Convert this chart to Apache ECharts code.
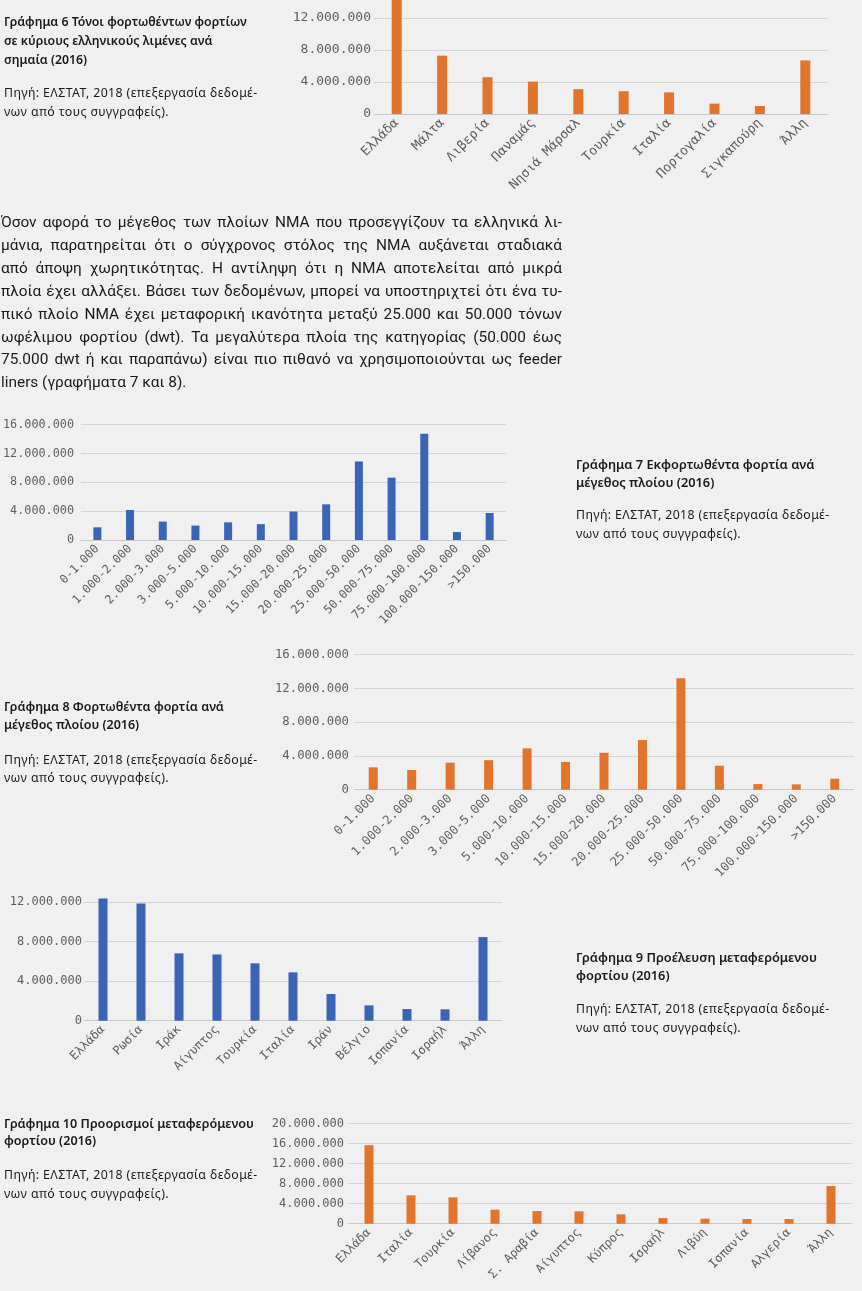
<!DOCTYPE html>
<html>
<head>
<meta charset="utf-8">
<script src="https://cdn.jsdelivr.net/npm/echarts@6/dist/echarts.min.js"></script>
<style>
html,body{margin:0;padding:0;background:#f0f0f0;}
#wrap{position:relative;width:862px;height:1291px;overflow:hidden;background:#f0f0f0;}
#chart{position:absolute;left:0;top:0;width:862px;height:1291px;}
.t{position:absolute;white-space:nowrap;color:#1a1a1a;font-family:"Noto Sans",sans-serif;font-size:12.3px;line-height:18px;height:18px;}
.cap{font-weight:600;}
.src{letter-spacing:0.4px;}
.para{position:absolute;left:1px;width:561px;color:#1a1a1a;font-family:Roboto,"Noto Sans",sans-serif;font-size:15.4px;line-height:23px;height:23px;white-space:nowrap;text-align:justify;text-align-last:justify;}
.para.last{text-align-last:left;}
</style>
</head>
<body>
<div id="wrap">
<div id="chart"></div>
<div id="texts"></div>
</div>
<script>
// ---------- data ----------
var c6Cats = ['Ελλάδα','Μάλτα','Λιβερία','Παναμάς','Νησιά Μάρσαλ','Τουρκία','Ιταλία','Πορτογαλία','Σιγκαπούρη','Άλλη'];
var c6Vals = [14800000, 7300000, 4600000, 4050000, 3100000, 2850000, 2700000, 1300000, 1000000, 6700000];

var sizeCats = ['0-1.000','1.000-2.000','2.000-3.000','3.000-5.000','5.000-10.000','10.000-15.000','15.000-20.000','20.000-25.000','25.000-50.000','50.000-75.000','75.000-100.000','100.000-150.000','>150.000'];
var c7Vals = [1760000, 4170000, 2550000, 2000000, 2450000, 2200000, 3950000, 4950000, 10900000, 8650000, 14750000, 1100000, 3750000];
var c8Vals = [2650000, 2330000, 3200000, 3500000, 4900000, 3280000, 4380000, 5880000, 13200000, 2840000, 670000, 630000, 1300000];

var c9Cats = ['Ελλάδα','Ρωσία','Ιράκ','Αίγυπτος','Τουρκία','Ιταλία','Ιράν','Βέλγιο','Ισπανία','Ισραήλ','Άλλη'];
var c9Vals = [12370000, 11860000, 6810000, 6700000, 5800000, 4890000, 2700000, 1550000, 1180000, 1150000, 8460000];

var c10Cats = ['Ελλάδα','Ιταλία','Τουρκία','Λίβανος','Σ. Αραβία','Αίγυπτος','Κύπρος','Ισραήλ','Λιβύη','Ισπανία','Αλγερία','Άλλη'];
var c10Vals = [15700000, 5670000, 5270000, 2800000, 2530000, 2470000, 1870000, 1130000, 1000000, 930000, 930000, 7530000];

var paragraphLines = [
  'Όσον αφορά το μέγεθος των πλοίων ΝΜΑ που προσεγγίζουν τα ελληνικά λι-',
  'μάνια, παρατηρείται ότι ο σύγχρονος στόλος της ΝΜΑ αυξάνεται σταδιακά',
  'από άποψη χωρητικότητας. Η αντίληψη ότι η ΝΜΑ αποτελείται από μικρά',
  'πλοία έχει αλλάξει. Βάσει των δεδομένων, μπορεί να υποστηριχτεί ότι ένα τυ-',
  'πικό πλοίο ΝΜΑ έχει μεταφορική ικανότητα μεταξύ 25.000 και 50.000 τόνων',
  'ωφέλιμου φορτίου (dwt). Τα μεγαλύτερα πλοία της κατηγορίας (50.000 έως',
  '75.000 dwt ή και παραπάνω) είναι πιο πιθανό να χρησιμοποιούνται ως feeder',
  'liners (γραφήματα 7 και 8).'
];
var sourceLines = ['Πηγή: ΕΛΣΤΑΤ, 2018 (επεξεργασία δεδομέ-', 'νων από τους συγγραφείς).'];
var captions = [
  {x:4,   fs:12.3, ys:[22,41,60], src:[93,112],  lines:['Γράφημα 6 Τόνοι φορτωθέντων φορτίων','σε κύριους ελληνικούς λιμένες ανά','σημαία (2016)']},
  {x:576, fs:12.8, ys:[464,482],  src:[515,534], lines:['Γράφημα 7 Εκφορτωθέντα φορτία ανά','μέγεθος πλοίου (2016)']},
  {x:4,   fs:12.5, ys:[707,725],  src:[760,778], lines:['Γράφημα 8 Φορτωθέντα φορτία ανά','μέγεθος πλοίου (2016)']},
  {x:576, fs:12.8, ys:[957,975],  src:[1009,1028], lines:['Γράφημα 9 Προέλευση μεταφερόμενου','φορτίου (2016)']},
  {x:4,   fs:12.6, ys:[1124,1141], src:[1175,1194], lines:['Γράφημα 10 Προορισμοί μεταφερόμενου','φορτίου (2016)']}
];

// ---------- texts ----------
var tx = document.getElementById('texts');
function addDiv(cls, txt, x, yc, h, fs){
  var d = document.createElement('div');
  d.className = cls;
  d.textContent = txt;
  d.style.left = x + 'px';
  d.style.top = (yc - h/2) + 'px';
  if (fs) d.style.fontSize = fs + 'px';
  tx.appendChild(d);
}
captions.forEach(function(c){
  c.lines.forEach(function(l,i){ addDiv('t cap', l, c.x, c.ys[i], 18, c.fs); });
  sourceLines.forEach(function(l,i){ addDiv('t src', l, c.x, c.src[i], 18); });
});
var paraY = [222,245,268,291,314,337,359,382];
paragraphLines.forEach(function(l,i){
  var d = document.createElement('div');
  d.className = 'para' + (i === paragraphLines.length-1 ? ' last' : '');
  d.textContent = l;
  d.style.top = (paraY[i] - 11.5) + 'px';
  tx.appendChild(d);
});

// ---------- chart ----------
var ORANGE = '#E2742C', BLUE = '#3A64B6';
function fmt(v){ return String(v).replace(/\B(?=(\d{3})+(?!\d))/g, '.'); }
var MONO = '"DejaVu Sans Mono", monospace';

var specs = [
  {cats:c6Cats, vals:c6Vals, color:ORANGE, left:374, top:0, width:454, height:114, max:14250000, fs:13, bw:10, lm:3},
  {cats:sizeCats, vals:c7Vals, color:BLUE, left:76, top:424.7, width:430, height:115.3, max:16000000, fs:11.8, bw:8, lm:7},
  {cats:sizeCats, vals:c8Vals, color:ORANGE, left:354, top:654.7, width:500, height:135, max:16000000, fs:12.3, bw:9, lm:5},
  {cats:c9Cats, vals:c9Vals, color:BLUE, left:84, top:897.1, width:418, height:123.6, max:12500000, fs:12, bw:9, lm:2},
  {cats:c10Cats, vals:c10Vals, color:ORANGE, left:348, top:1123.7, width:504, height:100, max:20000000, fs:12, bw:9, lm:4}
];

var option = {
  backgroundColor: 'transparent',
  animation: false,
  grid: [], xAxis: [], yAxis: [], series: []
};
specs.forEach(function(s, i){
  var exact = s.max % 4000000 === 0;
  option.grid.push({left:s.left, top:s.top, width:s.width, height:s.height, containLabel:false});
  option.xAxis.push({
    type:'category', gridIndex:i, data:s.cats,
    axisLine:{show:true, lineStyle:{color:'#c8c8c8', width:1}},
    axisTick:{show:false},
    axisLabel:{rotate:45, interval:0, margin:7, color:'#5f5f5f', fontFamily:MONO, fontSize:s.fs}
  });
  option.yAxis.push({
    type:'value', gridIndex:i, min:0, max:s.max, interval:4000000,
    axisLine:{show:false}, axisTick:{show:false},
    axisLabel:{color:'#5f5f5f', fontFamily:MONO, fontSize:s.fs, margin:s.lm, formatter:fmt, showMaxLabel: exact},
    splitLine:{show:true, showMaxLine: exact, lineStyle:{color:'#d4d4d4', width:1}}
  });
  option.series.push({
    type:'bar', xAxisIndex:i, yAxisIndex:i, data:s.vals, barWidth:s.bw, clip:true,
    itemStyle:{color:s.color}
  });
});

var chart = echarts.init(document.getElementById('chart'), null, {renderer:'canvas'});
chart.setOption(option);
</script>
</body>
</html>
